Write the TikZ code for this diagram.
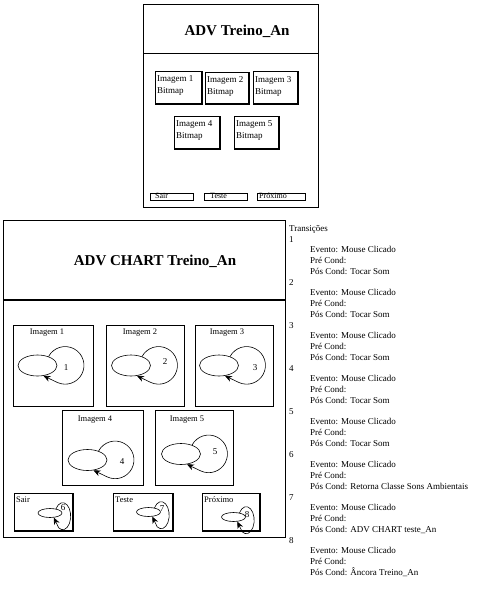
\documentclass[tikz,border=0pt]{standalone}
\usepackage{fontspec}
\setmainfont{Liberation Serif}
\usetikzlibrary{shapes.geometric,arrows.meta}
\newcommand\trgrp[2]{#1\\\hspace*{21pt}Evento: Mouse Clicado\\\hspace*{21pt}Pré Cond:\\\hspace*{21pt}Pós Cond: #2}
\begin{document}
\begin{tikzpicture}[x=1pt,y=1pt,
  frame/.style={draw, line width=0.8pt, inner sep=0, anchor=north west},
  bigframe/.style={draw, line width=1.4pt, inner sep=0, anchor=north west},
  divline/.style={line width=1.4pt},
  thinline/.style={line width=0.8pt},
  shade/.style={line width=1.6pt},
  title/.style={font=\fontsize{15}{18}\selectfont\bfseries, inner sep=0},
  lbl/.style={font=\fontsize{8.5}{10}\selectfont, inner sep=0},
  toplbl/.style={font=\fontsize{9}{12}\selectfont, inner sep=0, align=left, anchor=north west},
  btnlbl/.style={font=\fontsize{8}{9}\selectfont, inner sep=0, anchor=base west},
  st/.style={draw, ellipse, fill=white, line width=0.6pt, inner sep=0, minimum width=39pt, minimum height=21pt},
  sst/.style={draw, ellipse, fill=white, line width=0.6pt, inner sep=0, minimum width=24pt, minimum height=9pt},
  trloop/.style={line width=0.6pt, -{Stealth[length=7pt,width=6pt]}},
  num/.style={font=\fontsize{9}{10}\selectfont, inner sep=0},
]
\useasboundingbox (0,0) rectangle (479,-600);
\fill[white] (0,0) rectangle (479,-600);

% ---------- top window ----------
\node[frame, minimum width=175pt, minimum height=203pt] (topwin) at (143,-4) {};
\coordinate (tdl) at (143,-53);
\coordinate (tdr) at (318,-53);
\draw[thinline] (tdl) -- (tdr);
\node[title] (ttitle) at (237,-31) {ADV Treino\_An};

\node[frame, minimum width=46pt, minimum height=32pt] (t1) at (155,-71) {};
\node[frame, minimum width=43pt, minimum height=31pt] (t2) at (205,-72) {};
\node[frame, minimum width=44pt, minimum height=32pt] (t3) at (253,-71) {};
\node[frame, minimum width=45pt, minimum height=32pt] (t4) at (174,-116) {};
\node[frame, minimum width=44pt, minimum height=32pt] (t5) at (234,-116) {};
\foreach \b in {t1,t2,t3,t4,t5}{
  \draw[shade] (\b.north east) -- (\b.south east) -- (\b.south west);
}
\node[toplbl] (t1l) at ([xshift=2pt,yshift=-4pt]t1.north west) {Imagem 1\\Bitmap};
\node[toplbl] (t2l) at ([xshift=2pt,yshift=-4pt]t2.north west) {Imagem 2\\Bitmap};
\node[toplbl] (t3l) at ([xshift=2pt,yshift=-5pt]t3.north west) {Imagem 3\\Bitmap};
\node[toplbl] (t4l) at ([xshift=2pt,yshift=-4pt]t4.north west) {Imagem 4\\Bitmap};
\node[toplbl] (t5l) at ([xshift=2pt,yshift=-4pt]t5.north west) {Imagem 5\\Bitmap};

\node[frame, minimum width=43pt, minimum height=7pt] (b1) at (150,-192.5) {};
\node[frame, minimum width=43pt, minimum height=7pt] (b2) at (204,-192.5) {};
\node[frame, minimum width=48pt, minimum height=7pt] (b3) at (257,-192.5) {};
\node[btnlbl] (b1l) at (155,-198.5) {Sair};
\node[btnlbl] (b2l) at (210,-198.5) {Teste};
\node[btnlbl] (b3l) at (259,-198.5) {Próximo};

% ---------- chart window ----------
\node[bigframe, minimum width=282pt, minimum height=317pt] (chart) at (3,-220) {};
\coordinate (cdl) at (3,-300);
\coordinate (cdr) at (285,-300);
\draw[divline] (cdl) -- (cdr);
\node[title] (ctitle) at (155,-261) {ADV CHART Treino\_An};

\node[frame, minimum width=80pt, minimum height=81pt] (i1) at (13,-325) {};
\node[frame, minimum width=78pt, minimum height=81pt] (i2) at (106,-325) {};
\node[frame, minimum width=78pt, minimum height=81pt] (i3) at (195,-325) {};
\node[frame, minimum width=81pt, minimum height=75pt] (i4) at (62,-410) {};
\node[frame, minimum width=78pt, minimum height=75pt] (i5) at (155,-410) {};
\node[lbl] (i1l) at (47,-333) {Imagem 1};
\node[lbl] (i2l) at (140,-333) {Imagem 2};
\node[lbl] (i3l) at (227,-333) {Imagem 3};
\node[lbl] (i4l) at (95,-420) {Imagem 4};
\node[lbl] (i5l) at (187,-420) {Imagem 5};

\node[st] (e1) at (37.5,-365.5) {};
\node[st] (e2) at (131,-365.5) {};
\node[st] (e3) at (219,-365.5) {};
\node[st] (e4) at (87.5,-460) {};
\node[st] (e5) at (181,-454) {};
\foreach \e in {e1,e2,e3,e4,e5}{
  \draw[trloop] (\e.39) arc[start angle=152, end angle=-115, radius=18.8] -- (\e.-60);
}
\node[num] (n1) at (66,-368) {1};
\node[num] (n2) at (165,-362) {2};
\node[num] (n3) at (255,-368) {3};
\node[num] (n4) at (122,-462) {4};
\node[num] (n5) at (215,-452) {5};

\node[frame, minimum width=58pt, minimum height=37pt] (s1) at (14,-493) {};
\node[frame, minimum width=59pt, minimum height=37pt] (s2) at (113,-493) {};
\node[frame, minimum width=57pt, minimum height=37pt] (s3) at (202,-493) {};
\foreach \b in {s1,s2,s3}{
  \draw[shade] (\b.north east) -- (\b.south east) -- (\b.south west);
}
\node[btnlbl, font=\fontsize{8.5}{10}\selectfont] (s1l) at (16,-502) {Sair};
\node[btnlbl, font=\fontsize{8.5}{10}\selectfont] (s2l) at (115,-502) {Teste};
\node[btnlbl, font=\fontsize{8.5}{10}\selectfont] (s3l) at (204,-502) {Próximo};

\node[sst] (e6) at (50,-513) {};
\node[sst] (e7) at (148.5,-512) {};
\node[sst] (e8) at (233.5,-517) {};
\foreach \e in {e6,e7,e8}{
  \draw[trloop] (\e.35) arc[start angle=147, end angle=-120, x radius=8, y radius=13.5] -- (\e.-50);
}
\node[num] (n6) at (63,-508) {6};
\node[num] (n7) at (162,-509) {7};
\node[num] (n8) at (247,-515) {8};

% ---------- transitions ----------
\node[anchor=north west, inner sep=0, align=left, font=\fontsize{9}{10.75}\selectfont] (trans) at (289,-225) {%
Transições\\
\trgrp{1}{Tocar Som}\\
\trgrp{2}{Tocar Som}\\
\trgrp{3}{Tocar Som}\\
\trgrp{4}{Tocar Som}\\
\trgrp{5}{Tocar Som}\\
\trgrp{6}{Retorna Classe Sons Ambientais}\\
\trgrp{7}{ADV CHART teste\_An}\\
\trgrp{8}{Âncora Treino\_An}};
\end{tikzpicture}
\end{document}
